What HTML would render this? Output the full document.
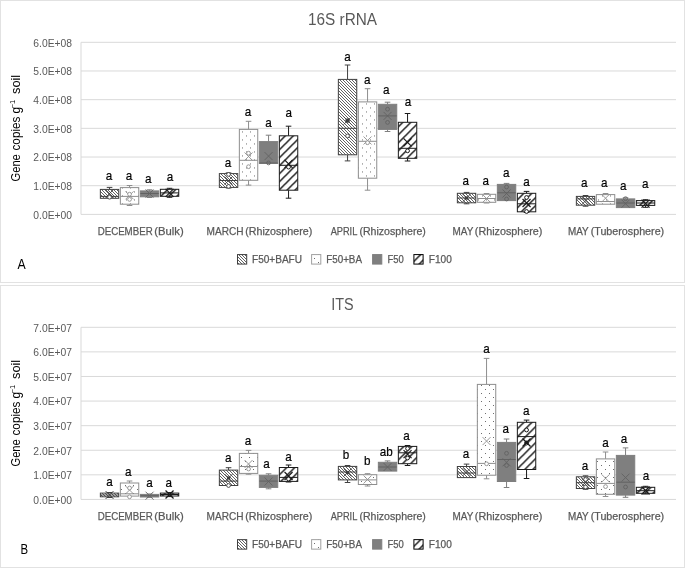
<!DOCTYPE html>
<html><head><meta charset="utf-8"><title>qPCR box plots</title>
<style>
html,body{margin:0;padding:0;background:#fff}
svg{display:block;font-family:"Liberation Sans",sans-serif}
.ti{font-size:16px;fill:#595959;text-anchor:middle}
.yt{font-size:10.3px;fill:#595959;text-anchor:end}
.ct{font-size:10.7px;fill:#595959;text-anchor:middle;stroke:#595959;stroke-width:0.25px}
.lg{font-size:10.4px;fill:#595959;stroke:#595959;stroke-width:0.25px}
.at{font-size:12px;fill:#000}
.sup{font-size:7.5px}
.lb{font-size:13.4px;fill:#000;text-anchor:middle;stroke:#000;stroke-width:0.2px}
.pl{font-size:14px;fill:#000}
</style></head><body>
<svg width="685" height="569" viewBox="0 0 685 569">
<defs>
<pattern id="pNarA" width="3" height="3" patternUnits="userSpaceOnUse" patternTransform="translate(2 0)">
<rect width="3" height="3" fill="#fff"/>
<path d="M0 0h1v1h-1zM1 1h1v1h-1zM2 2h1v1h-1z" fill="#626262" shape-rendering="crispEdges"/>
</pattern>
<pattern id="pDotA" width="8" height="8" patternUnits="userSpaceOnUse" patternTransform="translate(1 2.45)">
<rect width="8" height="8" fill="#fff"/>
<rect x="1" y="1" width="1" height="1" fill="#6e6e6e"/><rect x="5" y="5" width="1" height="1" fill="#6e6e6e"/>
</pattern>
<pattern id="pWideA" width="8" height="8" patternUnits="userSpaceOnUse" patternTransform="translate(5.2 0)">
<rect width="8" height="8" fill="#fff"/>
<path d="M-2 2L2 -2M-2 10L10 -2M6 10L10 6" stroke="#262626" stroke-width="1.55" fill="none"/>
</pattern>
<pattern id="pNarB" width="3" height="3" patternUnits="userSpaceOnUse" patternTransform="translate(2 0)">
<rect width="3" height="3" fill="#fff"/>
<path d="M0 0h1v1h-1zM1 1h1v1h-1zM2 2h1v1h-1z" fill="#626262" shape-rendering="crispEdges"/>
</pattern>
<pattern id="pDotB" width="8" height="8" patternUnits="userSpaceOnUse" patternTransform="translate(0 0)">
<rect width="8" height="8" fill="#fff"/>
<rect x="1" y="1" width="1" height="1" fill="#6e6e6e"/><rect x="5" y="5" width="1" height="1" fill="#6e6e6e"/>
</pattern>
<pattern id="pWideB" width="8" height="8" patternUnits="userSpaceOnUse" patternTransform="translate(2.3 0)">
<rect width="8" height="8" fill="#fff"/>
<path d="M-2 2L2 -2M-2 10L10 -2M6 10L10 6" stroke="#262626" stroke-width="1.55" fill="none"/>
</pattern>
<pattern id="pNarLA" width="3" height="3" patternUnits="userSpaceOnUse" patternTransform="translate(2 0)">
<rect width="3" height="3" fill="#fff"/>
<path d="M0 0h1v1h-1zM1 1h1v1h-1zM2 2h1v1h-1z" fill="#626262" shape-rendering="crispEdges"/>
</pattern>
<pattern id="pDotLA" width="8" height="8" patternUnits="userSpaceOnUse" patternTransform="translate(1 1)">
<rect width="8" height="8" fill="#fff"/>
<rect x="1" y="1" width="1" height="1" fill="#6e6e6e"/><rect x="5" y="5" width="1" height="1" fill="#6e6e6e"/>
</pattern>
<pattern id="pWideLA" width="8" height="8" patternUnits="userSpaceOnUse" patternTransform="translate(3.3 0)">
<rect width="8" height="8" fill="#fff"/>
<path d="M-2 2L2 -2M-2 10L10 -2M6 10L10 6" stroke="#262626" stroke-width="1.55" fill="none"/>
</pattern>
<pattern id="pNarLB" width="3" height="3" patternUnits="userSpaceOnUse" patternTransform="translate(2 0)">
<rect width="3" height="3" fill="#fff"/>
<path d="M0 0h1v1h-1zM1 1h1v1h-1zM2 2h1v1h-1z" fill="#626262" shape-rendering="crispEdges"/>
</pattern>
<pattern id="pDotLB" width="8" height="8" patternUnits="userSpaceOnUse" patternTransform="translate(1 6)">
<rect width="8" height="8" fill="#fff"/>
<rect x="1" y="1" width="1" height="1" fill="#6e6e6e"/><rect x="5" y="5" width="1" height="1" fill="#6e6e6e"/>
</pattern>
<pattern id="pWideLB" width="8" height="8" patternUnits="userSpaceOnUse" patternTransform="translate(0.3 0)">
<rect width="8" height="8" fill="#fff"/>
<path d="M-2 2L2 -2M-2 10L10 -2M6 10L10 6" stroke="#262626" stroke-width="1.55" fill="none"/>
</pattern>
</defs>
<rect width="685" height="569" fill="#fff"/>
<rect x="0.5" y="0.5" width="684" height="282" fill="#fff" stroke="#e2e2e2"/>
<text x="342.5" y="25.1" class="ti" textLength="69" lengthAdjust="spacingAndGlyphs">16S rRNA</text>
<path d="M81 42.3H676" stroke="#d9d9d9" fill="none"/>
<text x="72" y="46.6" class="yt">6.0E+08</text>
<path d="M81 70.98H676" stroke="#d9d9d9" fill="none"/>
<text x="72" y="75.28" class="yt">5.0E+08</text>
<path d="M81 99.66H676" stroke="#d9d9d9" fill="none"/>
<text x="72" y="103.96" class="yt">4.0E+08</text>
<path d="M81 128.34H676" stroke="#d9d9d9" fill="none"/>
<text x="72" y="132.64" class="yt">3.0E+08</text>
<path d="M81 157.02H676" stroke="#d9d9d9" fill="none"/>
<text x="72" y="161.32" class="yt">2.0E+08</text>
<path d="M81 185.7H676" stroke="#d9d9d9" fill="none"/>
<text x="72" y="190" class="yt">1.0E+08</text>
<path d="M81 214.38H676" stroke="#d9d9d9" fill="none"/>
<text x="72" y="218.68" class="yt">0.0E+00</text>
<path d="M81 42.3V214.38" stroke="#d9d9d9" fill="none"/>
<text transform="translate(20.4 -0.01) rotate(-90)" class="at"><tspan x="-181.5" y="0" textLength="27.3" lengthAdjust="spacingAndGlyphs">Gene</tspan> <tspan x="-150.5" y="0" textLength="33.9" lengthAdjust="spacingAndGlyphs">copies</tspan> <tspan x="-113.5" y="0">g</tspan><tspan x="-108.3" y="-5.0" class="sup">−1</tspan> <tspan x="-94" y="0" textLength="19.2" lengthAdjust="spacingAndGlyphs">soil</tspan></text>
<path d="M109.55 189.4V187.4M106.75 187.4H112.35" stroke="#404040" fill="none"/>
<rect x="100.35" y="189.4" width="18.4" height="8.9" fill="url(#pNarA)" stroke="#404040"/>
<path d="M100.35 196.4H118.75" stroke="#404040" fill="none"/>
<path d="M105.55 189.5L113.55 197.5M105.55 197.5L113.55 189.5" stroke="#404040" stroke-width="0.9" fill="none"/>
<circle cx="109.55" cy="197.2" r="1.9" stroke="#404040" stroke-width="0.9" fill="#fff"/>
<text transform="translate(109 180.2) scale(0.87 1)" class="lb">a</text>
<path d="M129.55 187.6V185.5M126.75 185.5H132.35" stroke="#8e8e8e" fill="none"/>
<path d="M129.55 204.2V205.5M126.75 205.5H132.35" stroke="#8e8e8e" fill="none"/>
<rect x="120.35" y="187.6" width="18.4" height="16.6" fill="url(#pDotA)" stroke="#8e8e8e"/>
<path d="M120.35 196.4H138.75" stroke="#8e8e8e" fill="none"/>
<path d="M125.55 191.3L133.55 199.3M125.55 199.3L133.55 191.3" stroke="#8e8e8e" stroke-width="0.9" fill="none"/>
<circle cx="129.55" cy="194.2" r="1.9" stroke="#8e8e8e" stroke-width="0.9" fill="#fff"/>
<circle cx="129.55" cy="199.4" r="1.9" stroke="#8e8e8e" stroke-width="0.9" fill="#fff"/>
<text transform="translate(129 180.2) scale(0.87 1)" class="lb">a</text>
<path d="M149.55 190.9V189.8M146.75 189.8H152.35" stroke="#7f7f7f" fill="none"/>
<path d="M149.55 196.8V197.5M146.75 197.5H152.35" stroke="#7f7f7f" fill="none"/>
<rect x="140.35" y="190.9" width="18.4" height="5.9" fill="#7f7f7f" stroke="#7f7f7f"/>
<path d="M140.35 193.5H158.75" stroke="#626262" fill="none"/>
<path d="M145.55 189.5L153.55 197.5M145.55 197.5L153.55 189.5" stroke="#626262" stroke-width="0.9" fill="none"/>
<text transform="translate(148.2 183) scale(0.87 1)" class="lb">a</text>
<path d="M169.55 189.3V188.3M166.75 188.3H172.35" stroke="#1a1a1a" fill="none"/>
<path d="M169.55 196.3V197.3M166.75 197.3H172.35" stroke="#1a1a1a" fill="none"/>
<rect x="160.35" y="189.3" width="18.4" height="7" fill="url(#pWideA)" stroke="#1a1a1a"/>
<path d="M160.35 192.9H178.75" stroke="#1a1a1a" fill="none"/>
<path d="M165.55 188.9L173.55 196.9M165.55 196.9L173.55 188.9" stroke="#1a1a1a" stroke-width="1.2" fill="none"/>
<text transform="translate(170 181.3) scale(0.87 1)" class="lb">a</text>
<path d="M228.55 173.6V172.9M225.75 172.9H231.35" stroke="#404040" fill="none"/>
<path d="M228.55 187.4V188M225.75 188H231.35" stroke="#404040" fill="none"/>
<rect x="219.35" y="173.6" width="18.4" height="13.8" fill="url(#pNarA)" stroke="#404040"/>
<path d="M219.35 180.5H237.75" stroke="#404040" fill="none"/>
<path d="M224.55 176.5L232.55 184.5M224.55 184.5L232.55 176.5" stroke="#404040" stroke-width="0.9" fill="none"/>
<circle cx="228.55" cy="174.4" r="1.9" stroke="#404040" stroke-width="0.9" fill="#fff"/>
<circle cx="228.55" cy="186.4" r="1.9" stroke="#404040" stroke-width="0.9" fill="#fff"/>
<text transform="translate(228 166.7) scale(0.87 1)" class="lb">a</text>
<path d="M248.55 129.4V121.3M245.75 121.3H251.35" stroke="#8e8e8e" fill="none"/>
<path d="M248.55 180.3V185.1M245.75 185.1H251.35" stroke="#8e8e8e" fill="none"/>
<rect x="239.35" y="129.4" width="18.4" height="50.9" fill="url(#pDotA)" stroke="#8e8e8e"/>
<path d="M239.35 160.3H257.75" stroke="#8e8e8e" fill="none"/>
<path d="M244.55 152.5L252.55 160.5M244.55 160.5L252.55 152.5" stroke="#8e8e8e" stroke-width="0.9" fill="none"/>
<circle cx="248.55" cy="153.2" r="1.9" stroke="#8e8e8e" stroke-width="0.9" fill="#fff"/>
<circle cx="248.55" cy="166.7" r="1.9" stroke="#8e8e8e" stroke-width="0.9" fill="#fff"/>
<text transform="translate(248.1 115.9) scale(0.87 1)" class="lb">a</text>
<path d="M268.55 141.6V135.2M265.75 135.2H271.35" stroke="#7f7f7f" fill="none"/>
<rect x="259.35" y="141.6" width="18.4" height="21.8" fill="#7f7f7f" stroke="#7f7f7f"/>
<path d="M259.35 163H277.75" stroke="#626262" fill="none"/>
<path d="M264.55 152.1L272.55 160.1M264.55 160.1L272.55 152.1" stroke="#626262" stroke-width="0.9" fill="none"/>
<circle cx="268.55" cy="162.9" r="1.9" stroke="#626262" stroke-width="0.9" fill="none"/>
<text transform="translate(268.4 126.9) scale(0.87 1)" class="lb">a</text>
<path d="M288.55 135.8V126.2M285.75 126.2H291.35" stroke="#1a1a1a" fill="none"/>
<path d="M288.55 190.2V198.2M285.75 198.2H291.35" stroke="#1a1a1a" fill="none"/>
<rect x="279.35" y="135.8" width="18.4" height="54.4" fill="url(#pWideA)" stroke="#1a1a1a"/>
<path d="M279.35 165.3H297.75" stroke="#1a1a1a" fill="none"/>
<path d="M284.55 159.8L292.55 167.8M284.55 167.8L292.55 159.8" stroke="#1a1a1a" stroke-width="1.2" fill="none"/>
<circle cx="288.55" cy="167.1" r="1.9" stroke="#1a1a1a" stroke-width="1.0" fill="#fff"/>
<text transform="translate(288.7 117.4) scale(0.87 1)" class="lb">a</text>
<path d="M347.55 79.4V65M344.75 65H350.35" stroke="#404040" fill="none"/>
<path d="M347.55 154.8V160.9M344.75 160.9H350.35" stroke="#404040" fill="none"/>
<rect x="338.35" y="79.4" width="18.4" height="75.4" fill="url(#pNarA)" stroke="#404040"/>
<path d="M338.35 128.3H356.75" stroke="#404040" fill="none"/>
<path d="M343.55 116.6L351.55 124.6M343.55 124.6L351.55 116.6" stroke="#404040" stroke-width="0.9" fill="none"/>
<circle cx="347.55" cy="120.6" r="1.9" stroke="#404040" stroke-width="0.9" fill="#fff"/>
<circle cx="347.55" cy="135.9" r="1.9" stroke="#404040" stroke-width="0.9" fill="#fff"/>
<rect x="345.95" y="119" width="3.2" height="3.2" fill="#404040"/>
<text transform="translate(347.6 60.6) scale(0.87 1)" class="lb">a</text>
<path d="M367.55 101.9V88.7M364.75 88.7H370.35" stroke="#8e8e8e" fill="none"/>
<path d="M367.55 178.2V190.2M364.75 190.2H370.35" stroke="#8e8e8e" fill="none"/>
<rect x="358.35" y="101.9" width="18.4" height="76.3" fill="url(#pDotA)" stroke="#8e8e8e"/>
<path d="M358.35 141.3H376.75" stroke="#8e8e8e" fill="none"/>
<path d="M363.55 136.5L371.55 144.5M363.55 144.5L371.55 136.5" stroke="#8e8e8e" stroke-width="0.9" fill="none"/>
<circle cx="367.55" cy="142.7" r="1.9" stroke="#8e8e8e" stroke-width="0.9" fill="#fff"/>
<text transform="translate(367.3 83.9) scale(0.87 1)" class="lb">a</text>
<path d="M387.55 104.3V102.2M384.75 102.2H390.35" stroke="#7f7f7f" fill="none"/>
<path d="M387.55 129.4V131.5M384.75 131.5H390.35" stroke="#7f7f7f" fill="none"/>
<rect x="378.35" y="104.3" width="18.4" height="25.1" fill="#7f7f7f" stroke="#7f7f7f"/>
<path d="M378.35 115.9H396.75" stroke="#626262" fill="none"/>
<path d="M383.55 111.9L391.55 119.9M383.55 119.9L391.55 111.9" stroke="#626262" stroke-width="0.9" fill="none"/>
<circle cx="387.55" cy="109.2" r="1.9" stroke="#626262" stroke-width="0.9" fill="none"/>
<circle cx="387.55" cy="122.4" r="1.9" stroke="#626262" stroke-width="0.9" fill="none"/>
<text transform="translate(386.2 93.8) scale(0.87 1)" class="lb">a</text>
<path d="M407.55 122.3V113.5M404.75 113.5H410.35" stroke="#1a1a1a" fill="none"/>
<path d="M407.55 158.3V161M404.75 161H410.35" stroke="#1a1a1a" fill="none"/>
<rect x="398.35" y="122.3" width="18.4" height="36" fill="url(#pWideA)" stroke="#1a1a1a"/>
<path d="M398.35 148.3H416.75" stroke="#1a1a1a" fill="none"/>
<path d="M403.55 138.3L411.55 146.3M403.55 146.3L411.55 138.3" stroke="#1a1a1a" stroke-width="1.2" fill="none"/>
<circle cx="407.55" cy="150.8" r="1.9" stroke="#1a1a1a" stroke-width="1.0" fill="#fff"/>
<text transform="translate(407.9 106) scale(0.87 1)" class="lb">a</text>
<path d="M466.55 193.3V192.4M463.75 192.4H469.35" stroke="#404040" fill="none"/>
<path d="M466.55 202.8V203.8M463.75 203.8H469.35" stroke="#404040" fill="none"/>
<rect x="457.35" y="193.3" width="18.4" height="9.5" fill="url(#pNarA)" stroke="#404040"/>
<path d="M457.35 198H475.75" stroke="#404040" fill="none"/>
<path d="M462.55 194L470.55 202M462.55 202L470.55 194" stroke="#404040" stroke-width="0.9" fill="none"/>
<rect x="464.95" y="196.4" width="3.2" height="3.2" fill="#404040"/>
<text transform="translate(465.8 184.7) scale(0.87 1)" class="lb">a</text>
<path d="M486.55 194.3V193.5M483.75 193.5H489.35" stroke="#8e8e8e" fill="none"/>
<path d="M486.55 202.3V203M483.75 203H489.35" stroke="#8e8e8e" fill="none"/>
<rect x="477.35" y="194.3" width="18.4" height="8" fill="url(#pDotA)" stroke="#8e8e8e"/>
<path d="M477.35 198.5H495.75" stroke="#8e8e8e" fill="none"/>
<path d="M482.55 194.5L490.55 202.5M482.55 202.5L490.55 194.5" stroke="#8e8e8e" stroke-width="0.9" fill="none"/>
<text transform="translate(485.8 184.7) scale(0.87 1)" class="lb">a</text>
<path d="M506.55 184.4V183.4M503.75 183.4H509.35" stroke="#7f7f7f" fill="none"/>
<rect x="497.35" y="184.4" width="18.4" height="16.2" fill="#7f7f7f" stroke="#7f7f7f"/>
<path d="M497.35 192.8H515.75" stroke="#626262" fill="none"/>
<path d="M502.55 189.5L510.55 197.5M502.55 197.5L510.55 189.5" stroke="#626262" stroke-width="0.9" fill="none"/>
<circle cx="506.55" cy="187" r="1.9" stroke="#626262" stroke-width="0.9" fill="none"/>
<circle cx="506.55" cy="199" r="1.9" stroke="#626262" stroke-width="0.9" fill="none"/>
<text transform="translate(506.2 176.7) scale(0.87 1)" class="lb">a</text>
<path d="M526.55 193.3V191.4M523.75 191.4H529.35" stroke="#1a1a1a" fill="none"/>
<path d="M526.55 211.8V212.5M523.75 212.5H529.35" stroke="#1a1a1a" fill="none"/>
<rect x="517.35" y="193.3" width="18.4" height="18.5" fill="url(#pWideA)" stroke="#1a1a1a"/>
<path d="M517.35 203.8H535.75" stroke="#1a1a1a" fill="none"/>
<path d="M522.55 199L530.55 207M522.55 207L530.55 199" stroke="#1a1a1a" stroke-width="1.2" fill="none"/>
<circle cx="526.55" cy="197.5" r="1.9" stroke="#1a1a1a" stroke-width="1.0" fill="#fff"/>
<circle cx="526.55" cy="211.5" r="1.9" stroke="#1a1a1a" stroke-width="1.0" fill="#fff"/>
<text transform="translate(526.6 185.9) scale(0.87 1)" class="lb">a</text>
<path d="M585.55 196.4V195.5M582.75 195.5H588.35" stroke="#404040" fill="none"/>
<path d="M585.55 205.2V206.2M582.75 206.2H588.35" stroke="#404040" fill="none"/>
<rect x="576.35" y="196.4" width="18.4" height="8.8" fill="url(#pNarA)" stroke="#404040"/>
<path d="M576.35 198.9H594.75" stroke="#404040" fill="none"/>
<path d="M581.55 196.8L589.55 204.8M581.55 204.8L589.55 196.8" stroke="#404040" stroke-width="0.9" fill="none"/>
<text transform="translate(584.2 187.3) scale(0.87 1)" class="lb">a</text>
<path d="M605.55 194.6V193.5M602.75 193.5H608.35" stroke="#8e8e8e" fill="none"/>
<rect x="596.35" y="194.6" width="18.4" height="9.6" fill="url(#pDotA)" stroke="#8e8e8e"/>
<path d="M596.35 201.5H614.75" stroke="#8e8e8e" fill="none"/>
<path d="M601.55 194.2L609.55 202.2M601.55 202.2L609.55 194.2" stroke="#8e8e8e" stroke-width="0.9" fill="none"/>
<text transform="translate(604.3 187.3) scale(0.87 1)" class="lb">a</text>
<path d="M625.55 198.9V197.8M622.75 197.8H628.35" stroke="#7f7f7f" fill="none"/>
<rect x="616.35" y="198.9" width="18.4" height="8.7" fill="#7f7f7f" stroke="#7f7f7f"/>
<path d="M616.35 203H634.75" stroke="#626262" fill="none"/>
<path d="M621.55 199.7L629.55 207.7M621.55 207.7L629.55 199.7" stroke="#626262" stroke-width="0.9" fill="none"/>
<circle cx="625.55" cy="198.7" r="1.9" stroke="#626262" stroke-width="0.9" fill="none"/>
<text transform="translate(623.3 190.2) scale(0.87 1)" class="lb">a</text>
<path d="M645.55 200.6V199.7M642.75 199.7H648.35" stroke="#1a1a1a" fill="none"/>
<path d="M645.55 205.4V207.3M642.75 207.3H648.35" stroke="#1a1a1a" fill="none"/>
<rect x="636.35" y="200.6" width="18.4" height="4.8" fill="url(#pWideA)" stroke="#1a1a1a"/>
<path d="M636.35 203H654.75" stroke="#1a1a1a" fill="none"/>
<path d="M641.55 199.7L649.55 207.7M641.55 207.7L649.55 199.7" stroke="#1a1a1a" stroke-width="1.2" fill="none"/>
<text transform="translate(645.2 188.4) scale(0.87 1)" class="lb">a</text>
<text y="234.88" class="ct" style="text-anchor:start"><tspan x="97.65" textLength="55.02" lengthAdjust="spacingAndGlyphs">DECEMBER</tspan> <tspan x="154.3" textLength="29.43" lengthAdjust="spacingAndGlyphs">(Bulk)</tspan></text>
<text y="234.88" class="ct" style="text-anchor:start"><tspan x="206.59" textLength="36.96" lengthAdjust="spacingAndGlyphs">MARCH</tspan> <tspan x="245.19" textLength="67.03" lengthAdjust="spacingAndGlyphs">(Rhizosphere)</tspan></text>
<text y="234.88" class="ct" style="text-anchor:start"><tspan x="330.64" textLength="26.36" lengthAdjust="spacingAndGlyphs">APRIL</tspan> <tspan x="359.41" textLength="66.46" lengthAdjust="spacingAndGlyphs">(Rhizosphere)</tspan></text>
<text y="234.88" class="ct" style="text-anchor:start"><tspan x="452.58" textLength="20.53" lengthAdjust="spacingAndGlyphs">MAY</tspan> <tspan x="474.84" textLength="67.56" lengthAdjust="spacingAndGlyphs">(Rhizosphere)</tspan></text>
<text y="234.88" class="ct" style="text-anchor:start"><tspan x="567.9" textLength="20.56" lengthAdjust="spacingAndGlyphs">MAY</tspan> <tspan x="590.67" textLength="73.52" lengthAdjust="spacingAndGlyphs">(Tuberosphere)</tspan></text>
<rect x="237.5" y="254.58" width="9.2" height="9.5" fill="url(#pNarLA)" stroke="#404040"/>
<text x="252.0" y="262.58" class="lg" textLength="50.0" lengthAdjust="spacingAndGlyphs">F50+BAFU</text>
<rect x="311.6" y="254.58" width="9.2" height="9.5" fill="url(#pDotLA)" stroke="#a0a0a0"/>
<text x="326.2" y="262.58" class="lg" textLength="35.8" lengthAdjust="spacingAndGlyphs">F50+BA</text>
<rect x="372.6" y="254.58" width="9.2" height="9.5" fill="#7f7f7f" stroke="#7f7f7f"/>
<text x="387.5" y="262.58" class="lg" textLength="16.3" lengthAdjust="spacingAndGlyphs">F50</text>
<rect x="413.9" y="254.58" width="9.2" height="9.5" fill="url(#pWideLA)" stroke="#000"/>
<text x="428.8" y="262.58" class="lg" textLength="23.0" lengthAdjust="spacingAndGlyphs">F100</text>
<text x="17.4" y="269.3" class="pl" textLength="8.2" lengthAdjust="spacingAndGlyphs">A</text>
<rect x="0.5" y="285.5" width="684" height="282" fill="#fff" stroke="#e2e2e2"/>
<text x="342.5" y="310.1" class="ti" textLength="22.4" lengthAdjust="spacingAndGlyphs">ITS</text>
<path d="M81 327.3H676" stroke="#d9d9d9" fill="none"/>
<text x="72" y="331.6" class="yt">7.0E+07</text>
<path d="M81 351.89H676" stroke="#d9d9d9" fill="none"/>
<text x="72" y="356.19" class="yt">6.0E+07</text>
<path d="M81 376.48H676" stroke="#d9d9d9" fill="none"/>
<text x="72" y="380.78" class="yt">5.0E+07</text>
<path d="M81 401.07H676" stroke="#d9d9d9" fill="none"/>
<text x="72" y="405.37" class="yt">4.0E+07</text>
<path d="M81 425.66H676" stroke="#d9d9d9" fill="none"/>
<text x="72" y="429.96" class="yt">3.0E+07</text>
<path d="M81 450.25H676" stroke="#d9d9d9" fill="none"/>
<text x="72" y="454.55" class="yt">2.0E+07</text>
<path d="M81 474.84H676" stroke="#d9d9d9" fill="none"/>
<text x="72" y="479.14" class="yt">1.0E+07</text>
<path d="M81 499.43H676" stroke="#d9d9d9" fill="none"/>
<text x="72" y="503.73" class="yt">0.0E+00</text>
<path d="M81 327.3V499.43" stroke="#d9d9d9" fill="none"/>
<text transform="translate(20.4 285.01) rotate(-90)" class="at"><tspan x="-181.5" y="0" textLength="27.3" lengthAdjust="spacingAndGlyphs">Gene</tspan> <tspan x="-150.5" y="0" textLength="33.9" lengthAdjust="spacingAndGlyphs">copies</tspan> <tspan x="-113.5" y="0">g</tspan><tspan x="-108.3" y="-5.0" class="sup">−1</tspan> <tspan x="-94" y="0" textLength="19.2" lengthAdjust="spacingAndGlyphs">soil</tspan></text>
<path d="M109.55 493.1V492.5M106.75 492.5H112.35" stroke="#404040" fill="none"/>
<path d="M109.55 496.8V497.5M106.75 497.5H112.35" stroke="#404040" fill="none"/>
<rect x="100.35" y="493.1" width="18.4" height="3.7" fill="url(#pNarB)" stroke="#404040"/>
<path d="M100.35 495H118.75" stroke="#404040" fill="none"/>
<path d="M105.55 491L113.55 499M105.55 499L113.55 491" stroke="#404040" stroke-width="0.9" fill="none"/>
<text transform="translate(109.5 486.3) scale(0.87 1)" class="lb">a</text>
<path d="M129.55 483V481M126.75 481H132.35" stroke="#8e8e8e" fill="none"/>
<rect x="120.35" y="483" width="18.4" height="13.1" fill="url(#pDotB)" stroke="#8e8e8e"/>
<path d="M120.35 493.8H138.75" stroke="#8e8e8e" fill="none"/>
<path d="M125.55 486L133.55 494M125.55 494L133.55 486" stroke="#8e8e8e" stroke-width="0.9" fill="none"/>
<circle cx="129.55" cy="488" r="1.9" stroke="#8e8e8e" stroke-width="0.9" fill="#fff"/>
<circle cx="129.55" cy="496.8" r="1.9" stroke="#8e8e8e" stroke-width="0.9" fill="#fff"/>
<text transform="translate(128.2 475.5) scale(0.87 1)" class="lb">a</text>
<path d="M149.55 494.4V494M146.75 494H152.35" stroke="#7f7f7f" fill="none"/>
<path d="M149.55 497V497.4M146.75 497.4H152.35" stroke="#7f7f7f" fill="none"/>
<rect x="140.35" y="494.4" width="18.4" height="2.6" fill="#7f7f7f" stroke="#7f7f7f"/>
<path d="M140.35 495.7H158.75" stroke="#626262" fill="none"/>
<path d="M145.55 491.7L153.55 499.7M145.55 499.7L153.55 491.7" stroke="#626262" stroke-width="0.9" fill="none"/>
<text transform="translate(149.5 486.9) scale(0.87 1)" class="lb">a</text>
<path d="M169.55 493.1V492.6M166.75 492.6H172.35" stroke="#1a1a1a" fill="none"/>
<path d="M169.55 496V496.6M166.75 496.6H172.35" stroke="#1a1a1a" fill="none"/>
<rect x="160.35" y="493.1" width="18.4" height="2.9" fill="url(#pWideB)" stroke="#1a1a1a"/>
<path d="M160.35 494.5H178.75" stroke="#1a1a1a" fill="none"/>
<path d="M165.55 490.5L173.55 498.5M165.55 498.5L173.55 490.5" stroke="#1a1a1a" stroke-width="1.2" fill="none"/>
<text transform="translate(168.7 487.3) scale(0.87 1)" class="lb">a</text>
<path d="M228.55 470.1V467.7M225.75 467.7H231.35" stroke="#404040" fill="none"/>
<rect x="219.35" y="470.1" width="18.4" height="15.4" fill="url(#pNarB)" stroke="#404040"/>
<path d="M219.35 481.1H237.75" stroke="#404040" fill="none"/>
<path d="M224.55 474L232.55 482M224.55 482L232.55 474" stroke="#404040" stroke-width="0.9" fill="none"/>
<circle cx="228.55" cy="485.5" r="1.9" stroke="#404040" stroke-width="0.9" fill="#fff"/>
<rect x="226.95" y="476.4" width="3.2" height="3.2" fill="#404040"/>
<text transform="translate(228.2 461.5) scale(0.87 1)" class="lb">a</text>
<path d="M248.55 453.4V450.4M245.75 450.4H251.35" stroke="#8e8e8e" fill="none"/>
<path d="M248.55 473.4V474.2M245.75 474.2H251.35" stroke="#8e8e8e" fill="none"/>
<rect x="239.35" y="453.4" width="18.4" height="20" fill="url(#pDotB)" stroke="#8e8e8e"/>
<path d="M239.35 466.5H257.75" stroke="#8e8e8e" fill="none"/>
<path d="M244.55 460L252.55 468M244.55 468L252.55 460" stroke="#8e8e8e" stroke-width="0.9" fill="none"/>
<circle cx="248.55" cy="469" r="1.9" stroke="#8e8e8e" stroke-width="0.9" fill="#fff"/>
<text transform="translate(248 445.4) scale(0.87 1)" class="lb">a</text>
<path d="M268.55 475.3V473.8M265.75 473.8H271.35" stroke="#7f7f7f" fill="none"/>
<path d="M268.55 487.4V488.8M265.75 488.8H271.35" stroke="#7f7f7f" fill="none"/>
<rect x="259.35" y="475.3" width="18.4" height="12.1" fill="#7f7f7f" stroke="#7f7f7f"/>
<path d="M259.35 481.1H277.75" stroke="#626262" fill="none"/>
<path d="M264.55 477.5L272.55 485.5M264.55 485.5L272.55 477.5" stroke="#626262" stroke-width="0.9" fill="none"/>
<text transform="translate(266.6 468.2) scale(0.87 1)" class="lb">a</text>
<path d="M288.55 467.5V465M285.75 465H291.35" stroke="#1a1a1a" fill="none"/>
<path d="M288.55 481.4V482M285.75 482H291.35" stroke="#1a1a1a" fill="none"/>
<rect x="279.35" y="467.5" width="18.4" height="13.9" fill="url(#pWideB)" stroke="#1a1a1a"/>
<path d="M279.35 477.4H297.75" stroke="#1a1a1a" fill="none"/>
<path d="M284.55 472L292.55 480M284.55 480L292.55 472" stroke="#1a1a1a" stroke-width="1.2" fill="none"/>
<circle cx="288.55" cy="479" r="1.9" stroke="#1a1a1a" stroke-width="1.0" fill="#fff"/>
<text transform="translate(288.4 460.5) scale(0.87 1)" class="lb">a</text>
<path d="M347.55 466.4V465.5M344.75 465.5H350.35" stroke="#404040" fill="none"/>
<path d="M347.55 479.9V482.5M344.75 482.5H350.35" stroke="#404040" fill="none"/>
<rect x="338.35" y="466.4" width="18.4" height="13.5" fill="url(#pNarB)" stroke="#404040"/>
<path d="M338.35 472H356.75" stroke="#404040" fill="none"/>
<path d="M343.55 468.5L351.55 476.5M343.55 476.5L351.55 468.5" stroke="#404040" stroke-width="0.9" fill="none"/>
<rect x="345.95" y="470.9" width="3.2" height="3.2" fill="#404040"/>
<text transform="translate(346.1 459.3) scale(0.87 1)" class="lb">b</text>
<path d="M367.55 474.7V473.7M364.75 473.7H370.35" stroke="#8e8e8e" fill="none"/>
<path d="M367.55 484.5V486M364.75 486H370.35" stroke="#8e8e8e" fill="none"/>
<rect x="358.35" y="474.7" width="18.4" height="9.8" fill="url(#pDotB)" stroke="#8e8e8e"/>
<path d="M358.35 479.9H376.75" stroke="#8e8e8e" fill="none"/>
<path d="M363.55 475.5L371.55 483.5M363.55 483.5L371.55 475.5" stroke="#8e8e8e" stroke-width="0.9" fill="none"/>
<text transform="translate(367.2 465.4) scale(0.87 1)" class="lb">b</text>
<path d="M387.55 462.3V460.9M384.75 460.9H390.35" stroke="#7f7f7f" fill="none"/>
<rect x="378.35" y="462.3" width="18.4" height="8.8" fill="#7f7f7f" stroke="#7f7f7f"/>
<path d="M378.35 467H396.75" stroke="#626262" fill="none"/>
<path d="M383.55 463L391.55 471M383.55 471L391.55 463" stroke="#626262" stroke-width="0.9" fill="none"/>
<text transform="translate(386.2 455.9) scale(0.87 1)" class="lb">ab</text>
<path d="M407.55 446.4V445.5M404.75 445.5H410.35" stroke="#1a1a1a" fill="none"/>
<path d="M407.55 463.7V465.5M404.75 465.5H410.35" stroke="#1a1a1a" fill="none"/>
<rect x="398.35" y="446.4" width="18.4" height="17.3" fill="url(#pWideB)" stroke="#1a1a1a"/>
<path d="M398.35 452.8H416.75" stroke="#1a1a1a" fill="none"/>
<path d="M403.55 450.1L411.55 458.1M403.55 458.1L411.55 450.1" stroke="#1a1a1a" stroke-width="1.2" fill="none"/>
<circle cx="407.55" cy="448.5" r="1.9" stroke="#1a1a1a" stroke-width="1.0" fill="#fff"/>
<circle cx="407.55" cy="458" r="1.9" stroke="#1a1a1a" stroke-width="1.0" fill="#fff"/>
<text transform="translate(406.4 439.7) scale(0.87 1)" class="lb">a</text>
<path d="M466.55 466.5V464.1M463.75 464.1H469.35" stroke="#404040" fill="none"/>
<rect x="457.35" y="466.5" width="18.4" height="11.1" fill="url(#pNarB)" stroke="#404040"/>
<path d="M457.35 473H475.75" stroke="#404040" fill="none"/>
<path d="M462.55 468L470.55 476M462.55 476L470.55 468" stroke="#404040" stroke-width="0.9" fill="none"/>
<text transform="translate(466 457.6) scale(0.87 1)" class="lb">a</text>
<path d="M486.55 384.4V358.4M483.75 358.4H489.35" stroke="#8e8e8e" fill="none"/>
<path d="M486.55 475.2V478.8M483.75 478.8H489.35" stroke="#8e8e8e" fill="none"/>
<rect x="477.35" y="384.4" width="18.4" height="90.8" fill="url(#pDotB)" stroke="#8e8e8e"/>
<path d="M477.35 463.4H495.75" stroke="#8e8e8e" fill="none"/>
<path d="M482.55 437.1L490.55 445.1M482.55 445.1L490.55 437.1" stroke="#8e8e8e" stroke-width="0.9" fill="none"/>
<circle cx="486.55" cy="463.8" r="1.9" stroke="#8e8e8e" stroke-width="0.9" fill="#fff"/>
<text transform="translate(486.4 352.8) scale(0.87 1)" class="lb">a</text>
<path d="M506.55 442.4V439M503.75 439H509.35" stroke="#7f7f7f" fill="none"/>
<path d="M506.55 481.5V487.5M503.75 487.5H509.35" stroke="#7f7f7f" fill="none"/>
<rect x="497.35" y="442.4" width="18.4" height="39.1" fill="#7f7f7f" stroke="#7f7f7f"/>
<path d="M497.35 459.5H515.75" stroke="#626262" fill="none"/>
<path d="M502.55 458.3L510.55 466.3M502.55 466.3L510.55 458.3" stroke="#626262" stroke-width="0.9" fill="none"/>
<circle cx="506.55" cy="453.3" r="1.9" stroke="#626262" stroke-width="0.9" fill="none"/>
<circle cx="506.55" cy="465.5" r="1.9" stroke="#626262" stroke-width="0.9" fill="none"/>
<text transform="translate(505.7 432.5) scale(0.87 1)" class="lb">a</text>
<path d="M526.55 422.3V420.1M523.75 420.1H529.35" stroke="#1a1a1a" fill="none"/>
<path d="M526.55 469.5V478.5M523.75 478.5H529.35" stroke="#1a1a1a" fill="none"/>
<rect x="517.35" y="422.3" width="18.4" height="47.2" fill="url(#pWideB)" stroke="#1a1a1a"/>
<path d="M517.35 436.6H535.75" stroke="#1a1a1a" fill="none"/>
<path d="M522.55 438.5L530.55 446.5M522.55 446.5L530.55 438.5" stroke="#1a1a1a" stroke-width="1.2" fill="none"/>
<circle cx="526.55" cy="430" r="1.9" stroke="#1a1a1a" stroke-width="1.0" fill="#fff"/>
<circle cx="526.55" cy="443" r="1.9" stroke="#1a1a1a" stroke-width="1.0" fill="#fff"/>
<rect x="524.95" y="440.9" width="3.2" height="3.2" fill="#1a1a1a"/>
<text transform="translate(526.3 415) scale(0.87 1)" class="lb">a</text>
<path d="M585.55 476.8V475.8M582.75 475.8H588.35" stroke="#404040" fill="none"/>
<path d="M585.55 488.5V489.3M582.75 489.3H588.35" stroke="#404040" fill="none"/>
<rect x="576.35" y="476.8" width="18.4" height="11.7" fill="url(#pNarB)" stroke="#404040"/>
<path d="M576.35 482.7H594.75" stroke="#404040" fill="none"/>
<path d="M581.55 478.5L589.55 486.5M581.55 486.5L589.55 478.5" stroke="#404040" stroke-width="0.9" fill="none"/>
<circle cx="585.55" cy="479.5" r="1.9" stroke="#404040" stroke-width="0.9" fill="#fff"/>
<circle cx="585.55" cy="487" r="1.9" stroke="#404040" stroke-width="0.9" fill="#fff"/>
<text transform="translate(585.1 469.9) scale(0.87 1)" class="lb">a</text>
<path d="M605.55 458.9V452M602.75 452H608.35" stroke="#8e8e8e" fill="none"/>
<path d="M605.55 494.3V496.5M602.75 496.5H608.35" stroke="#8e8e8e" fill="none"/>
<rect x="596.35" y="458.9" width="18.4" height="35.4" fill="url(#pDotB)" stroke="#8e8e8e"/>
<path d="M596.35 483.4H614.75" stroke="#8e8e8e" fill="none"/>
<path d="M601.55 474.3L609.55 482.3M601.55 482.3L609.55 474.3" stroke="#8e8e8e" stroke-width="0.9" fill="none"/>
<circle cx="605.55" cy="486.6" r="1.9" stroke="#8e8e8e" stroke-width="0.9" fill="#fff"/>
<text transform="translate(605.4 447) scale(0.87 1)" class="lb">a</text>
<path d="M625.55 455.4V447.9M622.75 447.9H628.35" stroke="#7f7f7f" fill="none"/>
<path d="M625.55 495.1V497.3M622.75 497.3H628.35" stroke="#7f7f7f" fill="none"/>
<rect x="616.35" y="455.4" width="18.4" height="39.7" fill="#7f7f7f" stroke="#7f7f7f"/>
<path d="M616.35 482.2H634.75" stroke="#626262" fill="none"/>
<path d="M621.55 473.6L629.55 481.6M621.55 481.6L629.55 473.6" stroke="#626262" stroke-width="0.9" fill="none"/>
<circle cx="625.55" cy="487" r="1.9" stroke="#626262" stroke-width="0.9" fill="none"/>
<text transform="translate(624.1 443.4) scale(0.87 1)" class="lb">a</text>
<path d="M645.55 487.3V486.3M642.75 486.3H648.35" stroke="#1a1a1a" fill="none"/>
<path d="M645.55 493.3V494M642.75 494H648.35" stroke="#1a1a1a" fill="none"/>
<rect x="636.35" y="487.3" width="18.4" height="6" fill="url(#pWideB)" stroke="#1a1a1a"/>
<path d="M636.35 490.7H654.75" stroke="#1a1a1a" fill="none"/>
<path d="M641.55 486.5L649.55 494.5M641.55 494.5L649.55 486.5" stroke="#1a1a1a" stroke-width="1.2" fill="none"/>
<text transform="translate(646 479.5) scale(0.87 1)" class="lb">a</text>
<text y="519.93" class="ct" style="text-anchor:start"><tspan x="97.65" textLength="55.02" lengthAdjust="spacingAndGlyphs">DECEMBER</tspan> <tspan x="154.3" textLength="29.43" lengthAdjust="spacingAndGlyphs">(Bulk)</tspan></text>
<text y="519.93" class="ct" style="text-anchor:start"><tspan x="206.59" textLength="36.96" lengthAdjust="spacingAndGlyphs">MARCH</tspan> <tspan x="245.19" textLength="67.03" lengthAdjust="spacingAndGlyphs">(Rhizosphere)</tspan></text>
<text y="519.93" class="ct" style="text-anchor:start"><tspan x="330.64" textLength="26.36" lengthAdjust="spacingAndGlyphs">APRIL</tspan> <tspan x="359.41" textLength="66.46" lengthAdjust="spacingAndGlyphs">(Rhizosphere)</tspan></text>
<text y="519.93" class="ct" style="text-anchor:start"><tspan x="452.58" textLength="20.53" lengthAdjust="spacingAndGlyphs">MAY</tspan> <tspan x="474.84" textLength="67.56" lengthAdjust="spacingAndGlyphs">(Rhizosphere)</tspan></text>
<text y="519.93" class="ct" style="text-anchor:start"><tspan x="567.9" textLength="20.56" lengthAdjust="spacingAndGlyphs">MAY</tspan> <tspan x="590.67" textLength="73.52" lengthAdjust="spacingAndGlyphs">(Tuberosphere)</tspan></text>
<rect x="237.5" y="539.63" width="9.2" height="9.5" fill="url(#pNarLB)" stroke="#404040"/>
<text x="252.0" y="547.63" class="lg" textLength="50.0" lengthAdjust="spacingAndGlyphs">F50+BAFU</text>
<rect x="311.6" y="539.63" width="9.2" height="9.5" fill="url(#pDotLB)" stroke="#a0a0a0"/>
<text x="326.2" y="547.63" class="lg" textLength="35.8" lengthAdjust="spacingAndGlyphs">F50+BA</text>
<rect x="372.6" y="539.63" width="9.2" height="9.5" fill="#7f7f7f" stroke="#7f7f7f"/>
<text x="387.5" y="547.63" class="lg" textLength="16.3" lengthAdjust="spacingAndGlyphs">F50</text>
<rect x="413.9" y="539.63" width="9.2" height="9.5" fill="url(#pWideLB)" stroke="#000"/>
<text x="428.8" y="547.63" class="lg" textLength="23.0" lengthAdjust="spacingAndGlyphs">F100</text>
<text x="20.6" y="553.6" class="pl" textLength="7.6" lengthAdjust="spacingAndGlyphs">B</text>
</svg>
</body></html>
